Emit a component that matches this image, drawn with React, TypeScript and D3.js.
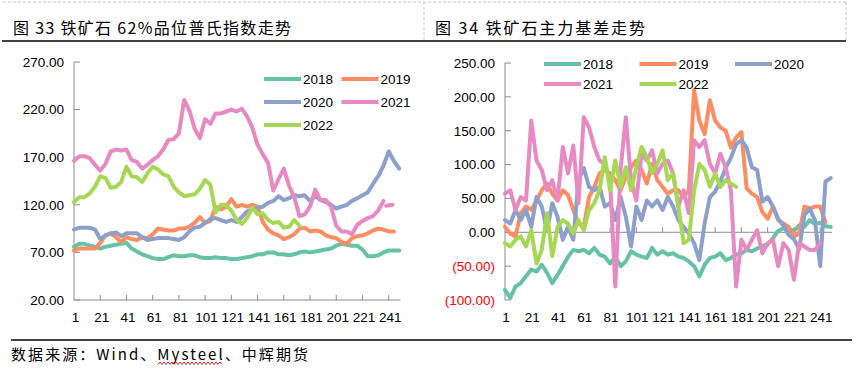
import React from 'react';
import * as d3 from 'd3';

// day index grid (every 4th trading day) shared by both charts
const days = d3.range(1, 250, 4);
const xTickLabels = [1, 21, 41, 61, 81, 101, 121, 141, 161, 181, 201, 221, 241];
const years = ['2018', '2019', '2020', '2021', '2022'];
const colors = ['#66c2a5', '#fc8d62', '#8da0cb', '#e78ac3', '#a6d854'];

// chart 33: Platts 62% index
const platts2018 = [76, 79, 79, 77, 76, 74, 76, 77, 78, 79, 80, 74, 71, 68, 66, 64, 63, 63, 65, 67,
  66, 66, 67, 67, 65, 64, 64, 65, 64, 64, 63, 63, 64, 65, 66, 68, 68, 70, 70, 68,
  68, 67, 68, 70, 71, 70, 71, 72, 73, 74, 77, 79, 78, 77, 77, 73, 66, 66, 67, 70, 72, 72, 72];
const platts2019 = [72, 74, 74, 74, 74, 80, 88, 90, 86, 81, 86, 84, 83, 86, 85, 89, 95, 94, 93, 93,
  95, 95, 97, 101, 107, 101, 103, 118, 115, 118, 126, 118, 120, 118, 120, 118, 102, 94, 90, 88,
  84, 86, 89, 95, 96, 92, 93, 92, 88, 86, 85, 81, 79, 85, 87, 88, 90, 93, 95, 94, 92, 92, null];
const platts2020 = [94, 96, 96, 96, 94, 84, 88, 90, 91, 87, 90, 90, 90, 86, 83, 84, 85, 85, 85, 84,
  83, 86, 92, 96, 97, 101, 105, 106, 104, 102, 104, 102, 107, 113, 115, 117, 118, 122, 124, 129,
  125, 127, 130, 129, 130, 124, 129, 125, 123, 120, 116, 118, 120, 124, 127, 130, 133, 142, 150, 161, 176, 166, 158];
const platts2021 = [166, 171, 171, 169, 162, 156, 163, 176, 178, 177, 178, 167, 165, 158, 162, 167, 171, 178, 188, 189,
  195, 230, 219, 200, 190, 210, 205, 216, 216, 218, 220, 218, 221, 213, 201, 183, 173, 164, 135, 147,
  158, 140, 128, 108, 110, 118, 136, 125, 125, 118, 98, 92, 92, 89, 99, 103, 106, 108, 114, 124, null, null, null];
const platts2021TailDays = [239, 244];
const platts2021Tail = [119, 120];
const platts2022 = [123, 128, 128, 132, 139, 150, 148, 138, 139, 144, 160, 150, 149, 144, 153, 160, 157, 152, 150, 139,
  133, 129, 130, 131, 137, 146, 141, 112, 120, 120, 114, 104, 100, 106, 117, 110, 111, 104, 101, 102,
  96, 97, 104, 98, null, null, null, null, null, null, null, null, null, null, null, null, null, null, null, null, null, null, null];
const plattsTicks = [20, 70, 120, 170, 220, 270];

// chart 34: main contract basis
const basis2018 = [-85, -97, -80, -75, -65, -55, -58, -48, -60, -75, -63, -50, -36, -26, -28, -26, -31, -23, -33, -36,
  -46, -36, -50, -43, -28, -33, -36, -38, -23, -33, -28, -33, -31, -36, -38, -43, -50, -65, -48, -38,
  -36, -31, -41, -38, -33, -31, -26, -28, -24, -20, -18, -9, 2, 6, 5, 2, 10, 8, 18, 12, 14, 9, 8];
const basis2019 = [8, -2, -6, 28, 38, 33, 47, 62, 72, 57, 47, 62, 55, 33, 13, 8, 52, 67, 87, 92,
  87, 77, 62, 82, 96, 106, 92, 72, 101, 77, 67, 57, 62, 62, 52, 62, 210, 165, 145, 195,
  165, 155, 150, 125, 140, 148, 65, 57, 52, 30, 20, 38, 18, 13, 8, -6, -2, 38, 35, 38, 38, 15, null];
const basis2020 = [18, 13, 33, 18, 33, 8, 52, 38, 3, 43, 23, -11, 8, -11, 77, 95, 67, 62, 67, 38,
  43, 18, 52, 23, -21, 38, 18, 47, 38, 47, 33, 52, 38, 18, 8, -2, -16, -41, 13, 52,
  60, 75, 95, 110, 130, 136, 125, 96, 92, 45, 52, 38, 20, 10, -4, -10, -25, 25, 35, 18, -50, 75, 80];
const basis2021 = [57, 62, 33, 52, 47, 165, 106, 92, 62, 77, 47, 126, 87, 128, 43, 170, 155, 126, 106, 101,
  77, -80, 92, 170, 77, 47, 116, 106, 121, 87, 101, 106, 87, 38, 62, 28, 136, 126, 136, 101,
  87, 116, 96, 62, -80, -11, -26, -11, 3, -31, -16, -11, -50, -16, -26, -70, -16, -21, -26, -26, -16, null, null];
const basis2022 = [-16, -21, -11, -6, -21, 3, -46, -26, 28, -35, 8, 18, 13, -2, 18, 3, 33, 43, 62, 111,
  62, 106, 67, 96, 62, 96, 126, 111, 87, 101, 121, 77, 87, 38, -16, -11, 62, 101, 92, 67,
  87, 67, 77, 72, 67, null, null, null, null, null, null, null, null, null, null, null, null, null, null, null, null, null, null];
const basisTicks = [-100, -50, 0, 50, 100, 150, 200, 250];

const numFont = '"Liberation Sans", Arial, sans-serif';
const cjkFont = '"Noto Sans CJK SC", sans-serif';
const axisColor = '#8c8c8c';

function Lines({ series, x, y }) {
  const line = d3.line().defined(d => d[1] != null).x(d => x(d[0])).y(d => y(d[1]));
  return series.map((s, i) => (
    <path key={i} d={line(s.days.map((d, k) => [d, s.values[k]]))} fill="none"
      stroke={s.color} strokeWidth={4} strokeLinejoin="round" strokeLinecap="round" />
  ));
}

function Legend({ items, x0, y0, colW, rowH, cols }) {
  return items.map((it, i) => {
    const cx = x0 + (i % cols) * colW;
    const cy = y0 + Math.floor(i / cols) * rowH;
    return (
      <g key={it.name}>
        <line x1={cx} x2={cx + 37} y1={cy} y2={cy} stroke={it.color} strokeWidth={4} />
        <text x={cx + 39} y={cy} dy="0.36em" fontSize={13.5} fontFamily={numFont} fill="#000">{it.name}</text>
      </g>
    );
  });
}

function PlattsChart() {
  const x = d3.scaleLinear().domain([1, 250]).range([74, 400.5]);
  const y = d3.scaleLinear().domain([20, 270]).range([300, 62]);
  const vals = [platts2018, platts2019, platts2020, platts2021, platts2022];
  const series = vals.map((v, i) => ({ days, values: v, color: colors[i] }));
  series.splice(4, 0, { days: platts2021TailDays, values: platts2021Tail, color: colors[3] });
  return (
    <g>
      <line x1={x(1)} x2={x(1)} y1={y(270)} y2={y(20)} stroke={axisColor} />
      <line x1={x(1)} x2={x(250)} y1={y(20)} y2={y(20)} stroke={axisColor} />
      {plattsTicks.map(t => (
        <g key={t}>
          <line x1={x(1)} x2={x(1) + 6} y1={y(t)} y2={y(t)} stroke={axisColor} />
          <text x={64} y={y(t)} dy="0.36em" textAnchor="end" fontSize={13.5} fontFamily={numFont}>{d3.format('.2f')(t)}</text>
        </g>
      ))}
      {xTickLabels.map(t => (
        <g key={t}>
          {t > 1 && <line x1={x(t)} x2={x(t)} y1={y(20)} y2={y(20) - 5} stroke={axisColor} />}
          <text x={x(t) + 1.5} y={321.5} textAnchor="middle" fontSize={13.5} fontFamily={numFont}>{t}</text>
        </g>
      ))}
      <Lines series={series} x={x} y={y} />
      <Legend items={years.map((n, i) => ({ name: n, color: colors[i] }))} x0={264} y0={79} colW={77.5} rowH={23} cols={2} />
    </g>
  );
}

function BasisChart() {
  const x = d3.scaleLinear().domain([1, 250]).range([505, 832]);
  const y = d3.scaleLinear().domain([-100, 250]).range([300, 63]);
  const vals = [basis2018, basis2019, basis2020, basis2021, basis2022];
  const series = vals.map((v, i) => ({ days, values: v, color: colors[i] }));
  const fmt = t => (t < 0 ? `(${d3.format('.2f')(-t)})` : d3.format('.2f')(t));
  return (
    <g>
      <line x1={x(1)} x2={x(1)} y1={y(250)} y2={y(-100)} stroke={axisColor} />
      <line x1={x(1)} x2={x(250)} y1={y(0)} y2={y(0)} stroke={axisColor} />
      {basisTicks.map(t => (
        <g key={t}>
          <line x1={x(1)} x2={x(1) + 6} y1={y(t)} y2={y(t)} stroke={axisColor} />
          <text x={495} y={y(t)} dy="0.36em" textAnchor="end" fontSize={13.5} fontFamily={numFont}
            fill={t < 0 ? '#ff0000' : '#000'}>{fmt(t)}</text>
        </g>
      ))}
      {xTickLabels.map(t => (
        <g key={t}>
          {t > 1 && <line x1={x(t)} x2={x(t)} y1={y(0)} y2={y(0) - 5} stroke={axisColor} />}
          <text x={x(t) + 1} y={321.5} textAnchor="middle" fontSize={13.5} fontFamily={numFont}>{t}</text>
        </g>
      ))}
      <Lines series={series} x={x} y={y} />
      <Legend items={years.map((n, i) => ({ name: n, color: colors[i] }))} x0={544} y0={64} colW={95.5} rowH={20} cols={3} />
    </g>
  );
}

export default function App() {
  // decorative spell-check squiggle under "Mysteel"
  const wave = d3.range(0, 33).map(k => `${k === 0 ? 'M' : 'L'}${158 + k * 2},${k % 2 ? 362 : 364.5}`).join('');
  return (
    <svg width={856} height={369} style={{ position: 'absolute', left: 0, top: 0, background: '#fff' }}>
      <line x1={3} x2={846} y1={2} y2={2} stroke="#c8c8c8" strokeDasharray="3,2" />
      <line x1={424} x2={424} y1={2} y2={41} stroke="#c8c8c8" strokeDasharray="3,2" />
      <line x1={846} x2={846} y1={2} y2={41} stroke="#c8c8c8" strokeDasharray="3,2" />
      <text x={13} y={34} fontSize={16} fontFamily={cjkFont} textLength={278} lengthAdjust="spacing">图 33 铁矿石 62%品位普氏指数走势</text>
      <text x={435} y={34} fontSize={16} fontFamily={cjkFont} textLength={210} lengthAdjust="spacing">图 34 铁矿石主力基差走势</text>
      <line x1={2} x2={846} y1={41} y2={41} stroke="#000" strokeWidth={1.5} />
      <PlattsChart />
      <BasisChart />
      <line x1={11} x2={852} y1={340} y2={340} stroke="#000" strokeWidth={1.5} />
      <text x={11} y={360} fontSize={15} fontFamily={cjkFont} textLength={297} lengthAdjust="spacing">数据来源：Wind、Mysteel、中辉期货</text>
      <path d={wave} fill="none" stroke="#e02020" strokeWidth={1} />
    </svg>
  );
}
